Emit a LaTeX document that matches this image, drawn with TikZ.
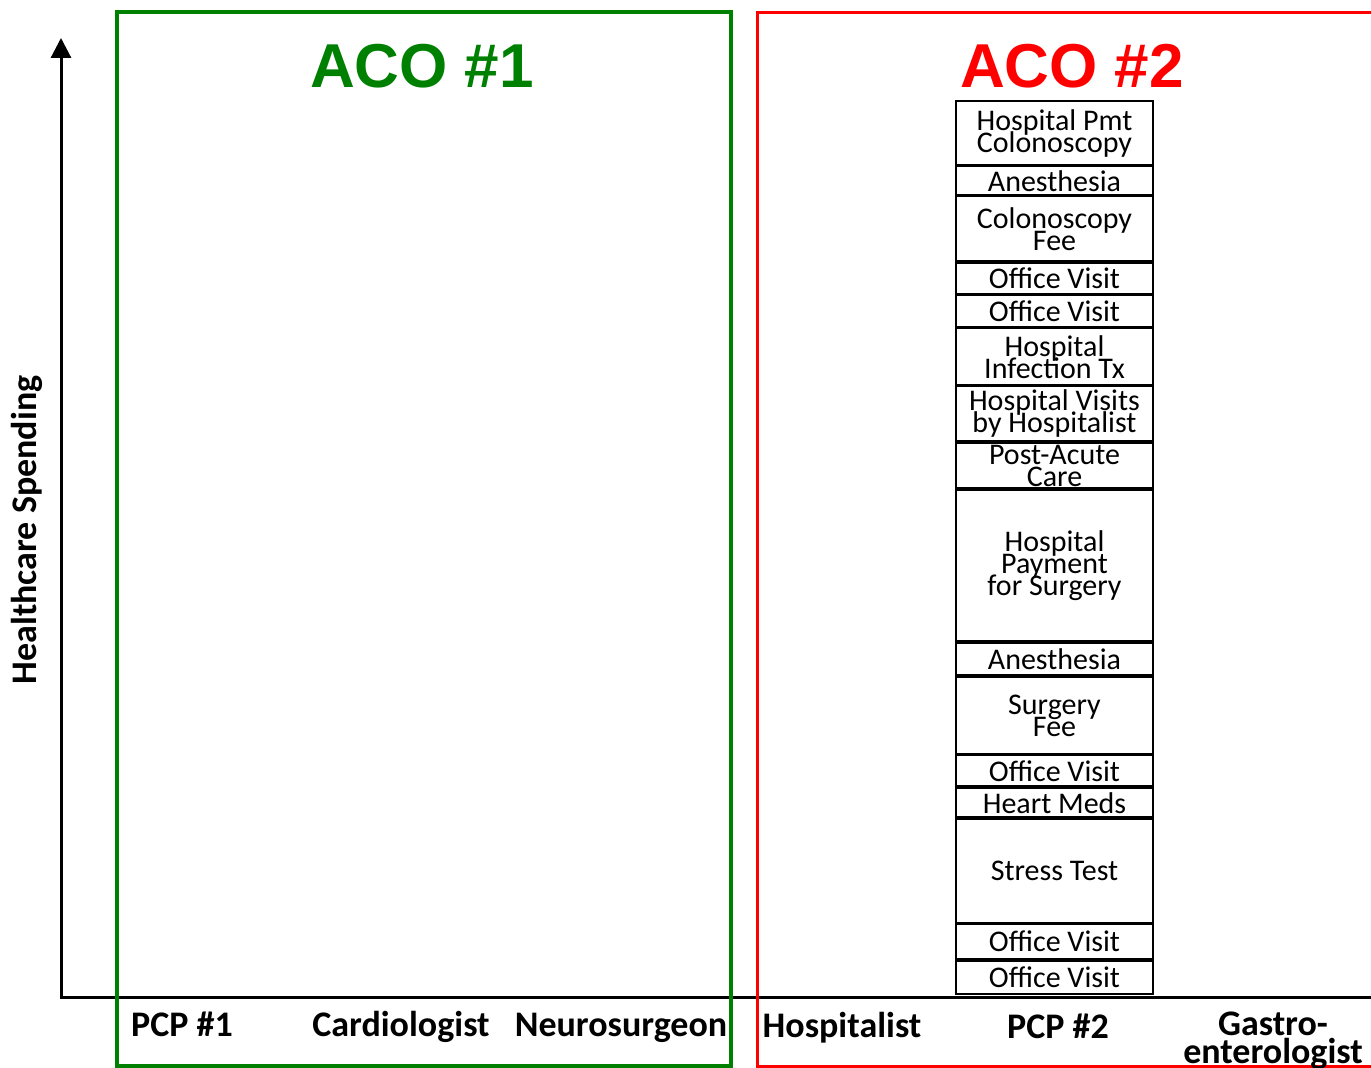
\documentclass[tikz,border=0pt]{standalone}
\usepackage{fontspec}
\setmainfont{Carlito}
\newfontfamily\headfont{Liberation Sans}
\usetikzlibrary{arrows.meta,positioning}
\definecolor{acogreen}{RGB}{0,128,0}

\begin{document}
\begin{tikzpicture}[
    x=0.5pt,
    y=-0.5pt,
    >={Triangle[width=10pt,length=10pt]},
    node distance=0.75pt,
    axis/.style={line width=1.5pt},
    frame/.style={line width=2pt},
    cost/.style={
        draw,
        line width=1pt,
        minimum width=98.5pt,
        inner sep=0pt,
        outer sep=0pt,
        align=center,
        font={\fontsize{15}{11}\selectfont\lineskiplimit=-50pt}
    },
    heading/.style={font=\headfont\bfseries\fontsize{31}{31}\selectfont,anchor=base},
    provider/.style={font={\bfseries\fontsize{18}{14}\selectfont\lineskiplimit=-50pt},anchor=base,align=center}
]
\useasboundingbox (0,0) rectangle (1371,1068);

\coordinate (ytop) at (61,38);
\coordinate (xend) at (1371,997);
\draw[axis,<-] (ytop) |- (xend);
\node[provider,rotate=90,anchor=center] (ylabel) at (27,530) {Healthcare Spending};

\draw[frame,acogreen] (117,12) rectangle (731,1066);
\draw[frame,red,line width=1.5pt] (1380,13) -| (757,1066) -- (1380,1066);

\node[heading,text=acogreen] (aco1) at (422,88) {ACO \#1};
\node[heading,text=red] (aco2) at (1072,88) {ACO \#2};

\node[cost,minimum height=31.75pt,anchor=north] (pmt) at (1054.5,101.5) {Hospital Pmt\\Colonoscopy};
\node[cost,minimum height=14.25pt,below=of pmt] (anes1) {Anesthesia};
\node[cost,minimum height=32.5pt,below=of anes1] (colofee) {Colonoscopy\\Fee};
\node[cost,minimum height=15.5pt,below=of colofee] (visit1) {Office Visit};
\node[cost,minimum height=15.75pt,below=of visit1] (visit2) {Office Visit};
\node[cost,minimum height=28.25pt,below=of visit2] (infect) {Hospital\\Infection Tx};
\node[cost,minimum height=27.5pt,below=of infect] (hvisits) {Hospital Visits\\by Hospitalist};
\node[cost,minimum height=22.75pt,below=of hvisits] (postacute) {Post-Acute\\Care};
\node[cost,minimum height=75.75pt,below=of postacute] (surgpmt) {Hospital\\Payment\\for Surgery};
\node[cost,minimum height=16.25pt,below=of surgpmt] (anes2) {Anesthesia};
\node[cost,minimum height=38.5pt,below=of anes2] (surgfee) {Surgery\\Fee};
\node[cost,minimum height=15.5pt,below=of surgfee] (visit3) {Office Visit};
\node[cost,minimum height=14.75pt,below=of visit3] (meds) {Heart Meds};
\node[cost,minimum height=51.75pt,below=of meds] (stress) {Stress Test};
\node[cost,minimum height=17.5pt,below=of stress] (visit4) {Office Visit};
\node[cost,minimum height=16.75pt,below=of visit4] (visit5) {Office Visit};

\node[provider] (pcp1) at (182,1036) {PCP \#1};
\node[provider] (cardio) at (401,1036) {Cardiologist};
\node[provider] (neuro) at (621,1036) {Neurosurgeon};
\node[provider] (hosp) at (842,1037) {Hospitalist};
\node[provider] (pcp2) at (1058,1038) {PCP \#2};
\node[provider] (gastro) at (1273,1063) {Gastro-\\enterologist};

\end{tikzpicture}
\end{document}
